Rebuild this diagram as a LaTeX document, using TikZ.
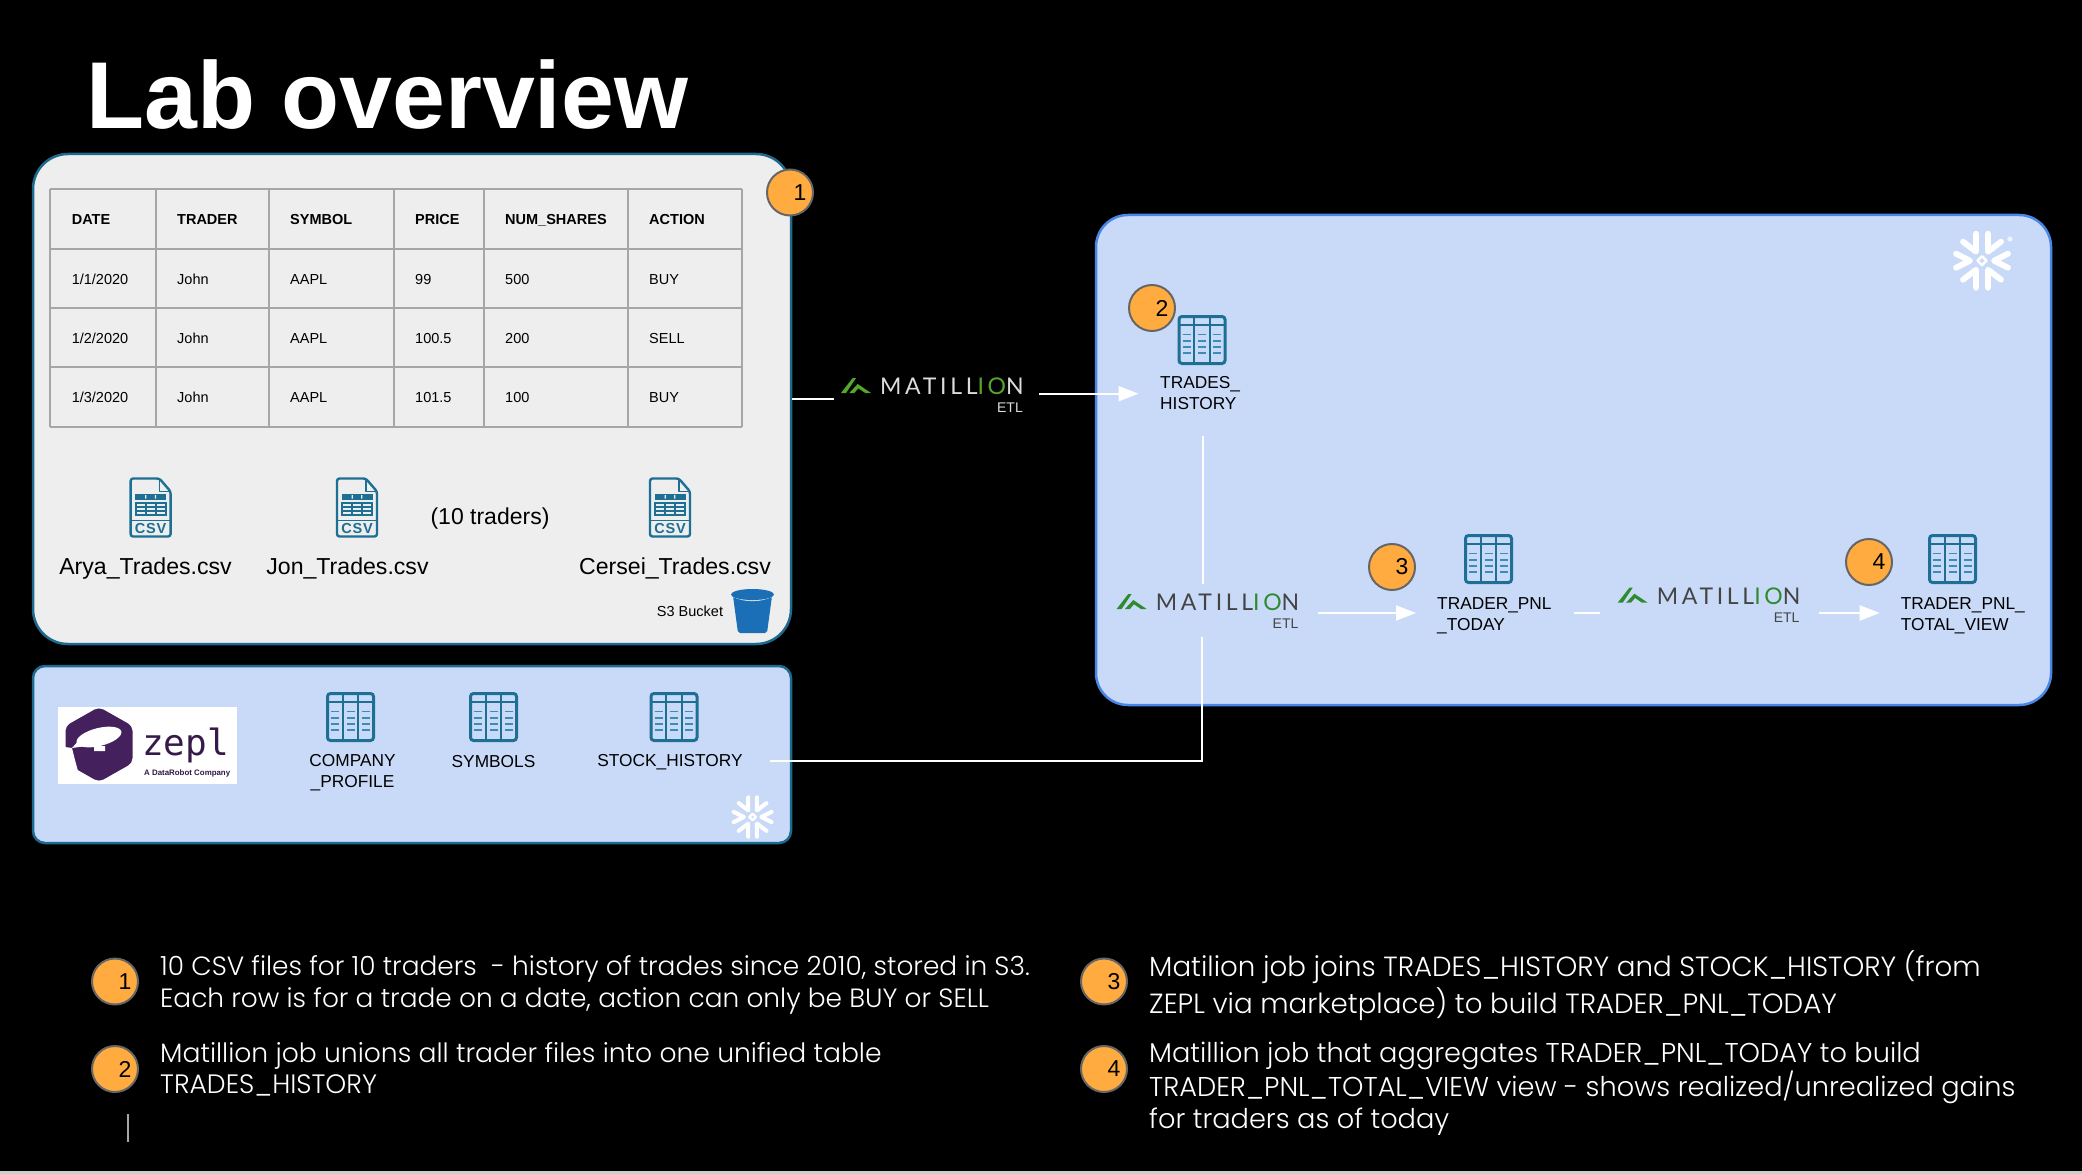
\documentclass[tikz,border=0pt]{standalone}
\usepackage{fontspec}
\usetikzlibrary{arrows.meta}
\setmainfont{Liberation Sans}
\newfontfamily\bodyfont{Poppins Light}
\newfontfamily\matfont[LetterSpace=16]{Lato}
\newfontfamily\zeplfont{DejaVu Sans Mono}
\newcommand{\fsz}[1]{\fontsize{#1}{#1}\selectfont}
\definecolor{panelblue}{HTML}{C9DAF8}
\definecolor{panelgrey}{HTML}{EEEEEE}
\definecolor{edgeteal}{HTML}{1E6A8E}
\definecolor{edgeblue}{HTML}{4A86E8}
\definecolor{gridgrey}{HTML}{A6A6A6}
\definecolor{badgeorange}{HTML}{FFAB40}
\definecolor{badgeedge}{HTML}{666666}
\definecolor{iconteal}{HTML}{1D6F93}
\definecolor{icondash}{HTML}{3C8DB3}
\definecolor{bucketblue}{HTML}{1A6FB7}
\definecolor{zeplpurple}{HTML}{44215C}
\definecolor{matlightA}{HTML}{DDDDDD}
\definecolor{matdarkA}{HTML}{444444}
\definecolor{matgreenA}{HTML}{56A62A}
\definecolor{matgreenB}{HTML}{2E8B2E}
\tikzset{
  x=1pt,y=-1pt,
  panel/.style={draw,rounded corners=#1,line width=2.5pt,inner sep=0pt,outer sep=0pt},
  thead/.style={anchor=west,inner sep=0pt,font=\bfseries\fsz{14.5},text height=10.4pt,text depth=0pt},
  tcell/.style={anchor=west,inner sep=0pt,font=\fsz{14.5},text height=10.4pt,text depth=0pt},
  filelabel/.style={inner sep=0pt,font=\fsz{23.1},text height=16.6pt,text depth=0pt},
  tablabel/.style={inner sep=0pt,font=\fontsize{17.3}{21}\selectfont,align=#1},
  tablabel/.default=center,
  badge/.style={circle,draw=badgeedge,fill=badgeorange,line width=2pt,minimum size=46pt,inner sep=0pt,font=\fsz{23},text=black},
  note/.style={anchor=north west,inner sep=0pt,align=left,text=white},
  wire/.style={draw=white,line width=2pt},
  flow/.style={wire,-{Triangle[length=20pt,width=15pt]}},
  pics/tableicon/.style={code={
    \draw[iconteal,line width=3pt,rounded corners=3pt] (-23,-23.5) rectangle (23,23.5);
    \draw[iconteal,line width=2.2pt] (-23,-15) -- (23,-15) (-7.8,-23.5) -- (-7.8,23.5) (7.8,-23.5) -- (7.8,23.5);
    \foreach \px in {-15.4,0,15.4}
      \foreach \py in {-5.5,1.2,7.2,13.2}
        \draw[icondash,line width=1.8pt] (\px-4,\py) -- (\px+4,\py);
  }},
  pics/csvicon/.style={code={
    \draw[iconteal,line width=2.4pt,rounded corners=2.5pt,line join=round]
      (-20,-29) -- (8.8,-29) -- (20,-16) -- (20,29) -- (-20,29) -- cycle;
    \draw[iconteal,line width=1.8pt,line join=round] (8.8,-29) -- (8.8,-16) -- (20,-16);
    \draw[iconteal,line width=1.8pt] (-20,13) -- (20,13);
    \fill[iconteal] (-15.5,-13.5) rectangle (15.5,-8);
    \fill[panelgrey] (-5.4,-12.5) rectangle (-4.2,-9) (4.2,-12.5) rectangle (5.4,-9);
    \draw[iconteal,line width=1.9pt] (-15,-4.5) rectangle (15,7.5)
       (-15,-.5) -- (15,-.5) (-15,3.5) -- (15,3.5) (-5,-4.5) -- (-5,7.5) (5,-4.5) -- (5,7.5);
    \node[inner sep=0pt,text=iconteal] (-t) at (0,21) {\bfseries\fsz{14.5}C\kern.8pt S\kern.8pt V};
  }},
  pics/snow/.style={code={
    \draw[#1,line cap=round,line join=round]
      (-19,-19) -- (-6,-9) -- (-6,-27)
      (19,-19) -- (6,-9) -- (6,-27)
      (-26,-7) -- (-12,0) -- (-26,7)
      (26,-7) -- (12,0) -- (26,7)
      (-19,19) -- (-6,9) -- (-6,27)
      (19,19) -- (6,9) -- (6,27);
    \draw[#1,line width=2.5pt,line join=round] (0,-4.5) -- (4.5,0) -- (0,4.5) -- (-4.5,0) -- cycle;
  }},
  pics/matillion/.style 2 args={code={
    \fill[#2] (0,15) -- (11.7,0) -- (15,0) -- (5,15) -- cycle;
    \fill[#2] (8.3,15) -- (16.7,6) -- (30,15) -- (24.3,15) -- (17.3,10.3) -- (13.3,15) -- cycle;
    \node[anchor=west,inner sep=0pt,text=#1,font=\matfont\fsz{23},text height=16.6pt,text depth=0pt] (-name) at (39,8) {MATILL\textcolor{#2}{IO}N};
    \node[anchor=east,inner sep=0pt,text=#1,font=\fsz{14},text height=10pt,text depth=0pt] (-etl) at (182,29.5) {ETL};
  }}
}
\begin{document}
\begin{tikzpicture}
\useasboundingbox (0,0) rectangle (2082,1174);
\fill[black] (0,0) rectangle (2082,1174);
\fill[black!20] (0,1171) rectangle (2082,1174);
\node[anchor=base west,inner sep=0pt,text=white,font=\bfseries\fsz{95}] (title) at (86,129) {Lab overview};

% ---- panels
\node[panel=35pt,draw=edgeteal,fill=panelgrey,minimum width=758pt,minimum height=490pt] (p1) at (412,399) {};
\node[panel=12pt,draw=edgeteal,fill=panelblue,minimum width=758pt,minimum height=177pt] (p2) at (412,754.5) {};
\node[panel=32pt,draw=edgeblue,fill=panelblue,minimum width=955pt,minimum height=490pt] (p3) at (1573.5,460) {};

% ---- data table
\foreach \gx in {50,156,269,394,484,628,742}
  \draw[gridgrey,line width=2.5pt] (\gx,189) -- (\gx,427);
\foreach \gy in {189,249,308,367,427}
  \draw[gridgrey,line width=2.5pt] (50,\gy) -- (742,\gy);
\node[thead] (h1) at (71.6,219) {DATE};
\node[thead] (h2) at (177,219) {TRADER};
\node[thead] (h3) at (290,219) {SYMBOL};
\node[thead] (h4) at (415,219) {PRICE};
\node[thead] (h5) at (505,219) {NUM\_SHARES};
\node[thead] (h6) at (649,219) {ACTION};
\foreach \r/\ry/\cA/\cD/\cE/\cF in {a/279/1\slash 1\slash 2020/99/500/BUY,b/338/1\slash 2\slash 2020/100.5/200/SELL,c/397/1\slash 3\slash 2020/101.5/100/BUY}{
  \node[tcell] (\r1) at (71.6,\ry) {\cA};
  \node[tcell] (\r2) at (177,\ry) {John};
  \node[tcell] (\r3) at (290,\ry) {AAPL};
  \node[tcell] (\r4) at (415,\ry) {\cD};
  \node[tcell] (\r5) at (505,\ry) {\cE};
  \node[tcell] (\r6) at (649,\ry) {\cF};
}

% ---- csv files
\pic (csvA) at (150.6,507.5) {csvicon};
\pic (csvB) at (357,507.5) {csvicon};
\pic (csvC) at (670,507.5) {csvicon};
\node[filelabel] (fileA) at (145.5,566) {Arya\_Trades.csv};
\node[filelabel] (fileB) at (347.5,566) {Jon\_Trades.csv};
\node[filelabel] (fileC) at (675,566) {Cersei\_Trades.csv};
\node[inner sep=0pt,font=\fsz{23}] (ten) at (490,519) {(10 traders)};

% ---- bucket
\node[inner sep=0pt,font=\fsz{14.5},text height=10.4pt,text depth=0pt] (s3) at (690,611) {S3 Bucket};
\fill[bucketblue,rounded corners=2pt] (733,596) -- (738,633) -- (767,633) -- (772,596) -- cycle;
\fill[panelgrey] (733,597) .. controls (745,602.5) and (760,602.5) .. (772,597) -- (774,595) -- (731,595) -- cycle;
\draw[white!80!black,line width=1pt] (731.5,595) .. controls (742,602) and (763,602) .. (773.5,595);
\fill[bucketblue] (752.5,594.5) ellipse [x radius=21.5,y radius=5.5];

% ---- zepl panel
\node[fill=white,inner sep=0pt,minimum width=179pt,minimum height=76.5pt] (zeplbox) at (147.7,745.3) {};
\fill[zeplpurple,rounded corners=5pt] (99,707) -- (132.5,726) -- (132.5,763) -- (99,782) -- (65.5,763) -- (65.5,726) -- cycle;
\fill[white] (65,747) -- (72,748) -- (75,760) -- (78,771) -- (64,771) -- cycle;
\fill[white,rotate around={14:(99,737)}] (99,737) ellipse [x radius=23,y radius=9];
\fill[white] (72,748) -- (80,739) -- (86,746) -- cycle (94,746) rectangle (105,751);
\node[anchor=west,inner sep=0pt,text=zeplpurple!80!black,font=\zeplfont\fsz{36}] (zepltext) at (142,745) {zepl};
\node[anchor=west,inner sep=0pt,text=zeplpurple!70!black,font=\bfseries\fsz{7.9},text height=6pt,text depth=0pt] (zeplsub) at (144,772) {A DataRobot Company};

\pic (tabA) at (350.5,717) {tableicon};
\pic (tabB) at (493.5,717) {tableicon};
\pic (tabC) at (674,717) {tableicon};
\node[tablabel] (labA) at (352.5,773) {COMPANY\\\_PROFILE};
\node[tablabel] (labB) at (493.5,762) {SYMBOLS};
\node[tablabel] (labC) at (670,762) {STOCK\_HISTORY};
\pic at (752.6,817) {snow={white,line width=4pt,scale=.73}};

% ---- snowflake, right panel
\pic at (1982,260.7) {snow={white,line width=5.8pt}};
\fill[white!70!panelblue] (2010,239) circle [radius=2.6];

% ---- tables in main panel
\pic (tabD) at (1202,340) {tableicon};
\pic (tabE) at (1488.5,559) {tableicon};
\pic (tabF) at (1952.5,559) {tableicon};
\node[tablabel=left,anchor=west] (labD) at (1160,393.5) {TRADES\_\\HISTORY};
\node[tablabel=left,anchor=west] (labE) at (1437,615.5) {TRADER\_PNL\\\_TODAY};
\node[tablabel=left,anchor=west] (labF) at (1900.6,615.5) {TRADER\_PNL\_\\TOTAL\_VIEW};

% ---- matillion
\pic (matA) at (841,378) {matillion={matlightA}{matgreenA}};
\pic (matB) at (1116.6,594) {matillion={matdarkA}{matgreenB}};
\pic (matC) at (1617.7,587.7) {matillion={matdarkA}{matgreenB}};

% ---- connectors
\coordinate (w1a) at (792,399);
\coordinate (w1b) at (833.6,399);
\coordinate (w2a) at (1039,393.7);
\coordinate (w2b) at (1138.5,393.7);
\coordinate (w3a) at (1202.8,436);
\coordinate (w3b) at (1202.8,584);
\coordinate (w4a) at (770,760.7);
\coordinate (w4b) at (1202.3,637);
\coordinate (w5a) at (1318,613);
\coordinate (w5b) at (1416,613);
\coordinate (w6a) at (1574,613);
\coordinate (w6b) at (1600,613);
\coordinate (w7a) at (1819,613);
\coordinate (w7b) at (1879.7,613);
\draw[wire] (w1a) -- (w1b);
\draw[flow] (w2a) -- (w2b);
\draw[wire] (w3a) -- (w3b);
\draw[wire] (w4a) -| (w4b);
\draw[flow] (w5a) -- (w5b);
\draw[wire] (w6a) -- (w6b);
\draw[flow] (w7a) -- (w7b);

% ---- badges on the diagram
\node[badge] (b1) at (790,192.5) {\hspace{20pt}1};
\node[badge] (b2) at (1152,308) {\hspace{20pt}2};
\node[badge] (b3) at (1392,567) {\hspace{20pt}3};
\node[badge] (b4) at (1869,562) {\hspace{20pt}4};

% ---- legend
\node[badge] (n1) at (115,981.5) {\hspace{20pt}1};
\node[badge] (n2) at (115,1069) {\hspace{20pt}2};
\node[badge] (n3) at (1104,981.5) {\hspace{20pt}3};
\node[badge] (n4) at (1104,1069) {\hspace{20pt}4};
\node[note,font=\bodyfont\fontsize{26.4}{32}\selectfont] (t1) at (160,955) {10 CSV files for 10 traders\ \ - history of trades since 2010, stored in S3.\\Each row is for a trade on a date, action can only be BUY or SELL};
\node[note,font=\bodyfont\fontsize{26.6}{31}\selectfont] (t2) at (160,1042) {Matillion job unions all trader files into one unified table\\TRADES\_HISTORY};
\node[note,font=\bodyfont\fontsize{27.7}{37}\selectfont] (t3) at (1149,950) {Matilion job joins TRADES\_HISTORY and STOCK\_HISTORY (from\\ZEPL via marketplace) to build TRADER\_PNL\_TODAY};
\node[note,font=\bodyfont\fontsize{27.2}{32}\selectfont] (t4) at (1149,1042) {Matillion job that aggregates TRADER\_PNL\_TODAY to build\\TRADER\_PNL\_TOTAL\_VIEW view - shows realized/unrealized gains\\for traders as of today};
\coordinate (tickA) at (128,1114);
\coordinate (tickB) at (128,1142);
\draw[gridgrey,line width=2pt] (tickA) -- (tickB);
\end{tikzpicture}
\end{document}
